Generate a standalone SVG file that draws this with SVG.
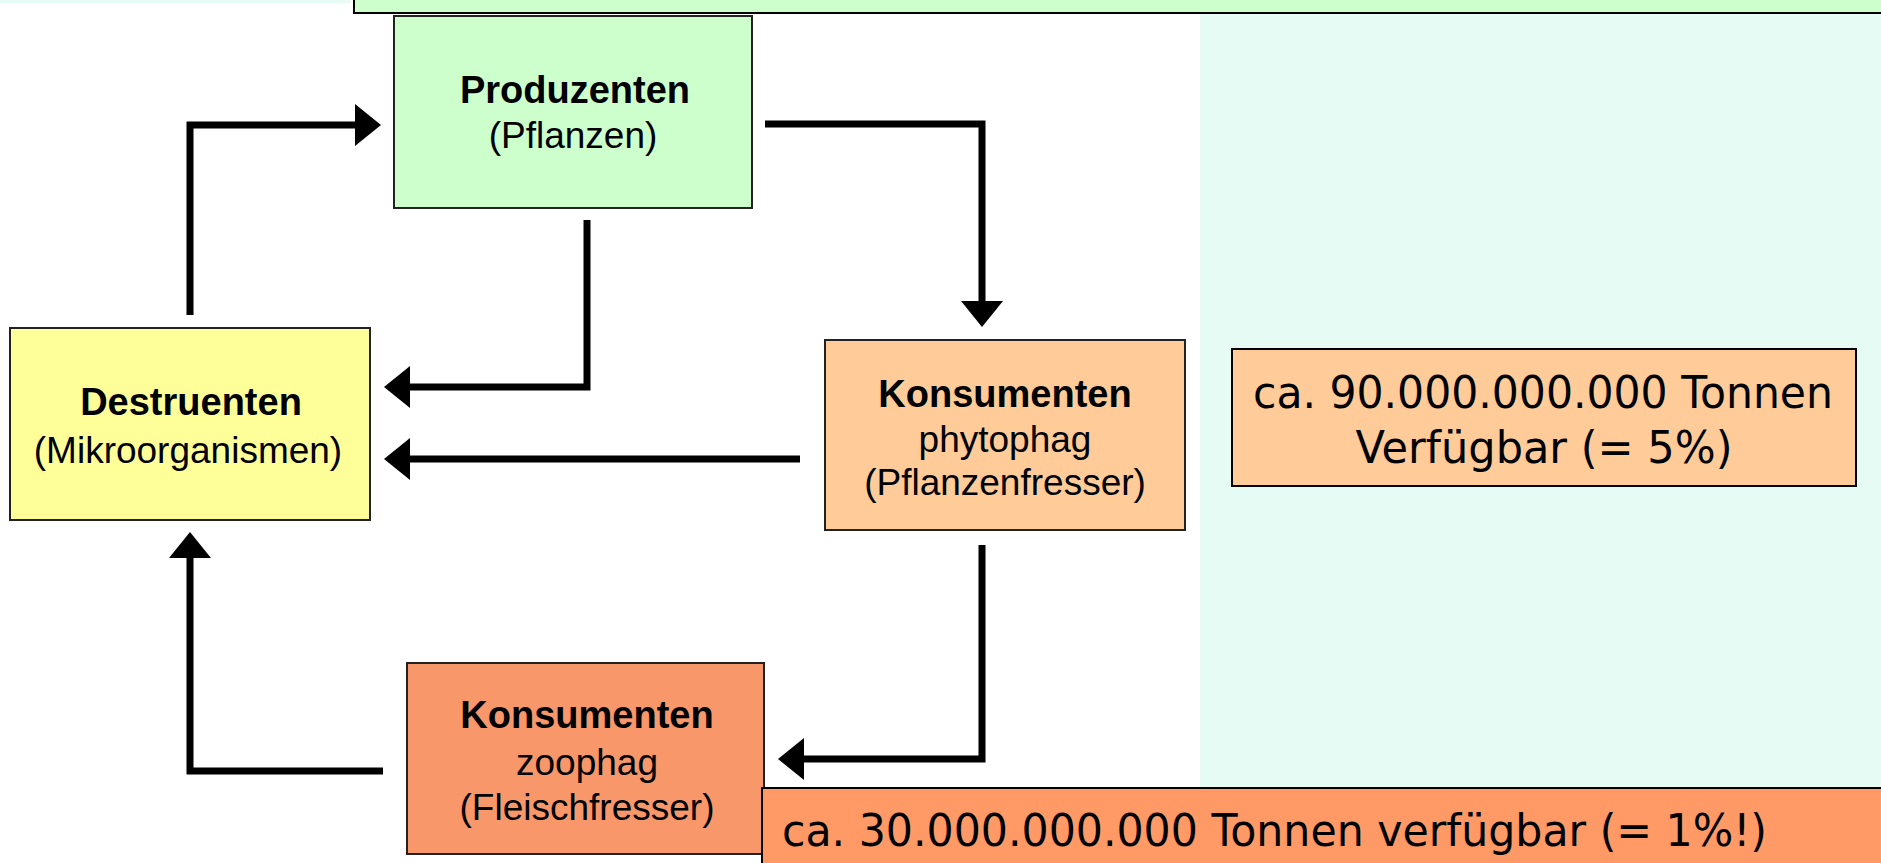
<svg xmlns="http://www.w3.org/2000/svg" width="1881" height="863" viewBox="0 0 1881 863">
  <style>
    .node { stroke: #222; stroke-width: 2; }
    .lbl { font-family: "Liberation Sans", Arial, sans-serif; font-size: 37px; fill: #000; text-anchor: middle; }
    .bold { font-weight: bold; font-size: 38px; }
    .big { font-family: "DejaVu Sans", Verdana, sans-serif; font-size: 45px; fill: #000; }
    .conn { fill: none; stroke: #000; stroke-width: 7; stroke-linejoin: miter; }
  </style>
  <defs>
    <marker id="ah" markerUnits="userSpaceOnUse" markerWidth="27" markerHeight="42" refX="6" refY="21" orient="auto">
      <path d="M0,0 L26,21 L0,42 Z" fill="#000"/>
    </marker>
  </defs>
  <rect x="0" y="0" width="1881" height="863" fill="#ffffff"/>
  <rect x="0" y="0" width="350" height="3" fill="#e6fbf4"/>
  <rect x="1200" y="13" width="681" height="776" fill="#e6fbf4"/>
  <g id="top-banner">
    <rect x="354" y="-10" width="1540" height="23" fill="#ccffcc" stroke="#000" stroke-width="2"/>
  </g>
  <g id="connectors">
    <path class="conn" d="M190,315 V125 H361" marker-end="url(#ah)"/>
    <path class="conn" d="M765,124 H982 V307" marker-end="url(#ah)"/>
    <path class="conn" d="M587,220 V387 H404" marker-end="url(#ah)"/>
    <path class="conn" d="M800,459 H404" marker-end="url(#ah)"/>
    <path class="conn" d="M982,545 V759 H798" marker-end="url(#ah)"/>
    <path class="conn" d="M383,771 H190 V552" marker-end="url(#ah)"/>
  </g>
  <g id="produzenten">
    <rect class="node" x="394" y="16" width="358" height="192" fill="#ccffcc"/>
    <text class="lbl bold" x="575" y="103">Produzenten</text>
    <text class="lbl" x="573" y="148">(Pflanzen)</text>
  </g>
  <g id="destruenten">
    <rect class="node" x="10" y="328" width="360" height="192" fill="#ffff99"/>
    <text class="lbl bold" x="191" y="415">Destruenten</text>
    <text class="lbl" x="188" y="463">(Mikroorganismen)</text>
  </g>
  <g id="konsumenten-phytophag">
    <rect class="node" x="825" y="340" width="360" height="190" fill="#ffcc99"/>
    <text class="lbl bold" x="1005" y="407">Konsumenten</text>
    <text class="lbl" x="1005" y="452">phytophag</text>
    <text class="lbl" x="1005" y="495">(Pflanzenfresser)</text>
  </g>
  <g id="konsumenten-zoophag">
    <rect class="node" x="407" y="663" width="357" height="191" fill="#f8976a"/>
    <text class="lbl bold" x="587" y="728">Konsumenten</text>
    <text class="lbl" x="587" y="775">zoophag</text>
    <text class="lbl" x="587" y="820">(Fleischfresser)</text>
  </g>
  <g id="info-90">
    <rect x="1232" y="349" width="624" height="137" fill="#ffcc99" stroke="#000" stroke-width="2"/>
    <text class="big" x="1543" y="408" text-anchor="middle" textLength="580" lengthAdjust="spacingAndGlyphs">ca. 90.000.000.000 Tonnen</text>
    <text class="big" x="1544" y="463" text-anchor="middle" textLength="377" lengthAdjust="spacingAndGlyphs">Verfügbar (= 5%)</text>
  </g>
  <g id="info-30">
    <rect x="762" y="788" width="1130" height="90" fill="#ff9966" stroke="#000" stroke-width="2"/>
    <text class="big" x="782" y="846" textLength="985" lengthAdjust="spacingAndGlyphs">ca. 30.000.000.000 Tonnen verfügbar (= 1%!)</text>
  </g>
</svg>
